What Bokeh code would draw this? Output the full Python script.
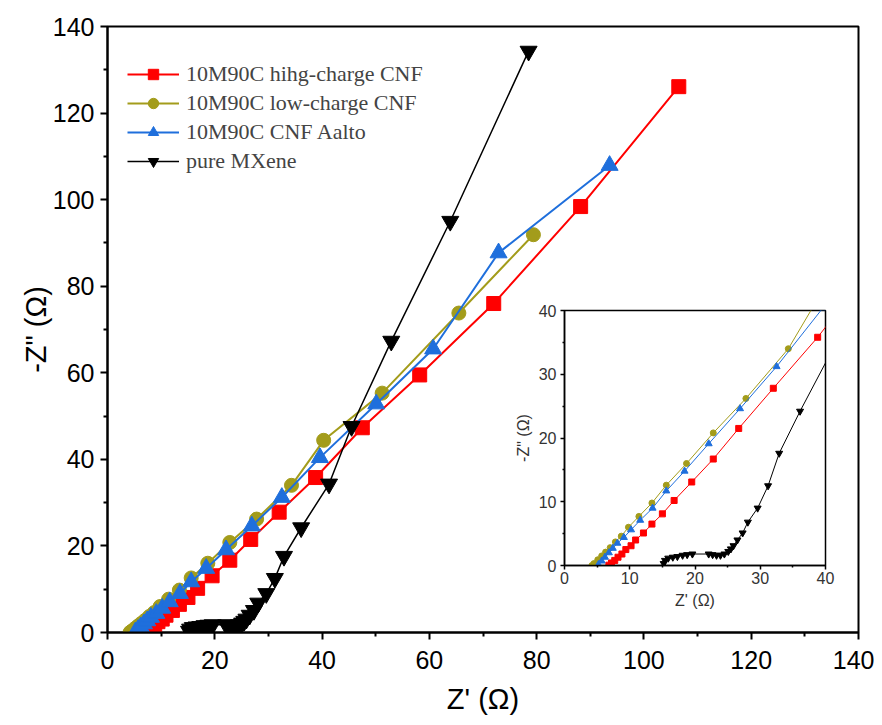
from bokeh.plotting import figure
from bokeh.models import Range1d, FixedTicker, Legend, LegendItem, GridBox
from bokeh.embed import file_html
from bokeh.resources import INLINE

# ---------------- data ----------------
names = ["10M90C hihg-charge CNF", "10M90C low-charge CNF", "10M90C CNF Aalto", "pure MXene"]

red_x = [6.8, 7.2, 7.7, 8.2, 8.8, 9.4, 10.2, 10.9, 12.1, 13.4, 15.0, 16.8, 19.5, 22.8, 26.7, 32.0, 38.8, 47.5, 58.2, 72.0, 88.2, 106.5]
red_y = [0.05, 0.4, 0.8, 1.3, 1.8, 2.5, 3.1, 4.0, 5.1, 6.5, 8.1, 10.2, 13.1, 16.7, 21.5, 27.8, 35.8, 47.3, 59.5, 76.0, 98.4, 126.1]

olive_x = [4.2, 4.5, 5.1, 5.7, 6.3, 7.0, 7.8, 8.7, 9.8, 11.4, 13.4, 15.6, 18.7, 22.8, 27.8, 34.3, 40.3, 51.2, 65.5, 79.4]
olive_y = [0.0, 0.3, 0.9, 1.5, 2.1, 2.8, 3.7, 4.6, 6.0, 7.7, 9.8, 12.6, 16.0, 20.8, 26.2, 34.0, 44.4, 55.3, 73.8, 91.9]

blue_x = [5.2, 5.7, 6.2, 6.8, 7.4, 8.1, 9.1, 10.2, 11.6, 13.5, 15.6, 18.4, 22.1, 26.9, 32.5, 39.6, 50.1, 60.7, 72.9, 93.6]
blue_y = [0.15, 0.7, 1.3, 2.0, 2.7, 3.5, 4.4, 5.6, 7.1, 9.0, 11.7, 14.8, 19.1, 24.6, 31.2, 40.4, 52.8, 65.5, 87.7, 107.9]

black_x = [15.2, 15.4, 15.9, 16.6, 17.3, 18.1, 18.8, 19.6, 22.1, 22.7, 23.3, 23.9, 24.5, 25.1, 25.5, 25.9, 26.5, 27.3, 28.1, 29.6, 31.2, 32.9, 36.1, 41.3, 45.5, 52.9, 63.9, 78.5]
black_y = [0.3, 0.8, 1.15, 1.3, 1.4, 1.6, 1.7, 1.8, 1.8, 1.7, 1.6, 1.6, 1.8, 2.2, 2.6, 3.1, 4.0, 5.1, 6.8, 9.0, 12.5, 17.6, 24.2, 34.3, 47.6, 67.3, 95.0, 134.3]

main_ticks = [0, 20, 40, 60, 80, 100, 120, 140]
main_minor = [10, 30, 50, 70, 90, 110, 130]
inset_ticks = [0, 10, 20, 30, 40]
inset_minor = [5, 15, 25, 35]

xs = [red_x, olive_x, blue_x, black_x]
ys = [red_y, olive_y, blue_y, black_y]
colors = ["#FF0000", "#A39C1B", "#1F6FDC", "#000000"]
markers = ["square", "circle", "triangle", "inverted_triangle"]
main_sizes = [14, 14, 17, 17]
inset_sizes = [6, 6, 7, 7]
main_lw = [2, 2, 2, 1.5]

SANS = "Liberation Sans"
SERIF = "Liberation Serif"


def style_axes(p, ticks, minor, lab_size, title_size, lw, tick_out, minor_out, lab_color):
    p.xgrid.visible = False
    p.ygrid.visible = False
    p.outline_line_color = "black"
    p.outline_line_width = lw
    p.outline_line_alpha = 1
    for ax in (p.xaxis[0], p.yaxis[0]):
        ax.ticker = FixedTicker(ticks=ticks, minor_ticks=minor)
        ax.axis_line_width = lw
        ax.axis_line_color = "black"
        ax.major_tick_line_width = lw
        ax.minor_tick_line_width = lw
        ax.major_tick_out = tick_out
        ax.major_tick_in = 0
        ax.minor_tick_out = minor_out
        ax.minor_tick_in = 0
        ax.major_label_text_font = SANS
        ax.major_label_text_font_size = lab_size
        ax.major_label_text_color = lab_color
        ax.axis_label_text_font = SANS
        ax.axis_label_text_font_size = title_size
        ax.axis_label_text_font_style = "normal"
        ax.axis_label_text_color = lab_color


# ---------------- main plot ----------------
ML, MR, MT, MB = 107, 16, 26, 92
FW, FH = 751, 606
MAIN_W, MAIN_H = ML + FW + MR, MT + FH + MB

main = figure(width=MAIN_W, height=MAIN_H,
              min_border_left=ML, min_border_right=MR, min_border_top=MT, min_border_bottom=MB,
              x_range=Range1d(0, 140), y_range=Range1d(0, 140),
              output_backend="svg", toolbar_location=None, frame_align=False)
main.xaxis.axis_label = "Z' (Ω)"
main.yaxis.axis_label = '-Z" (Ω)'
style_axes(main, main_ticks, main_minor, "25px", "29px", 2, 7, 4, "black")
main.xaxis.major_label_standoff = 11
main.xaxis.axis_label_standoff = 11
main.yaxis.major_label_standoff = 6
main.yaxis.axis_label_standoff = -2

items = []
for x, y, c, m, s, lw, n in zip(xs, ys, colors, markers, main_sizes, main_lw, names):
    rl = main.line(x, y, line_color=c, line_width=lw)
    rm = main.scatter(x, y, marker=m, size=s, fill_color=c, line_color=c)
    items.append(LegendItem(label=n, renderers=[rl, rm]))

legend = Legend(items=items, location=(20, 458), padding=0, margin=0,
                background_fill_alpha=0, border_line_alpha=0,
                label_text_font=SERIF, label_text_font_size="22px",
                glyph_width=52, glyph_height=26, label_height=26, spacing=3,
                label_standoff=7)
main.add_layout(legend)

# ---------------- inset ----------------
IL, IR, IT, IB = 60, 15, 10, 50
IFW, IFH = 261, 255
ins = figure(width=IL + IFW + IR, height=IT + IFH + IB,
             min_border_left=IL, min_border_right=IR, min_border_top=IT, min_border_bottom=IB,
             x_range=Range1d(0, 40), y_range=Range1d(0, 40),
             output_backend="svg", toolbar_location=None, frame_align=False)
ins.background_fill_alpha = 0
ins.border_fill_alpha = 0
ins.xaxis.axis_label = "Z' (Ω)"
ins.yaxis.axis_label = '-Z" (Ω)'
style_axes(ins, inset_ticks, inset_minor, "16px", "16px", 1.5, 4, 2, "#333333")
ins.xaxis.major_label_standoff = 2
ins.xaxis.axis_label_standoff = 5
ins.yaxis.major_label_standoff = 4
ins.yaxis.axis_label_standoff = 4

for x, y, c, m, s in zip(xs, ys, colors, markers, inset_sizes):
    ins.line(x, y, line_color=c, line_width=1)
    ins.scatter(x, y, marker=m, size=s, fill_color=c, line_color=c)

COL0 = 564 - IL
ROW0 = 310 - IT
grid = GridBox(children=[(main, 0, 0, 2, 2), (ins, 1, 1)],
               cols=[f"{COL0}px", f"{MAIN_W - COL0}px"],
               rows=[f"{ROW0}px", f"{MAIN_H - ROW0}px"])

open("out.html", "w").write(file_html(grid, INLINE))
